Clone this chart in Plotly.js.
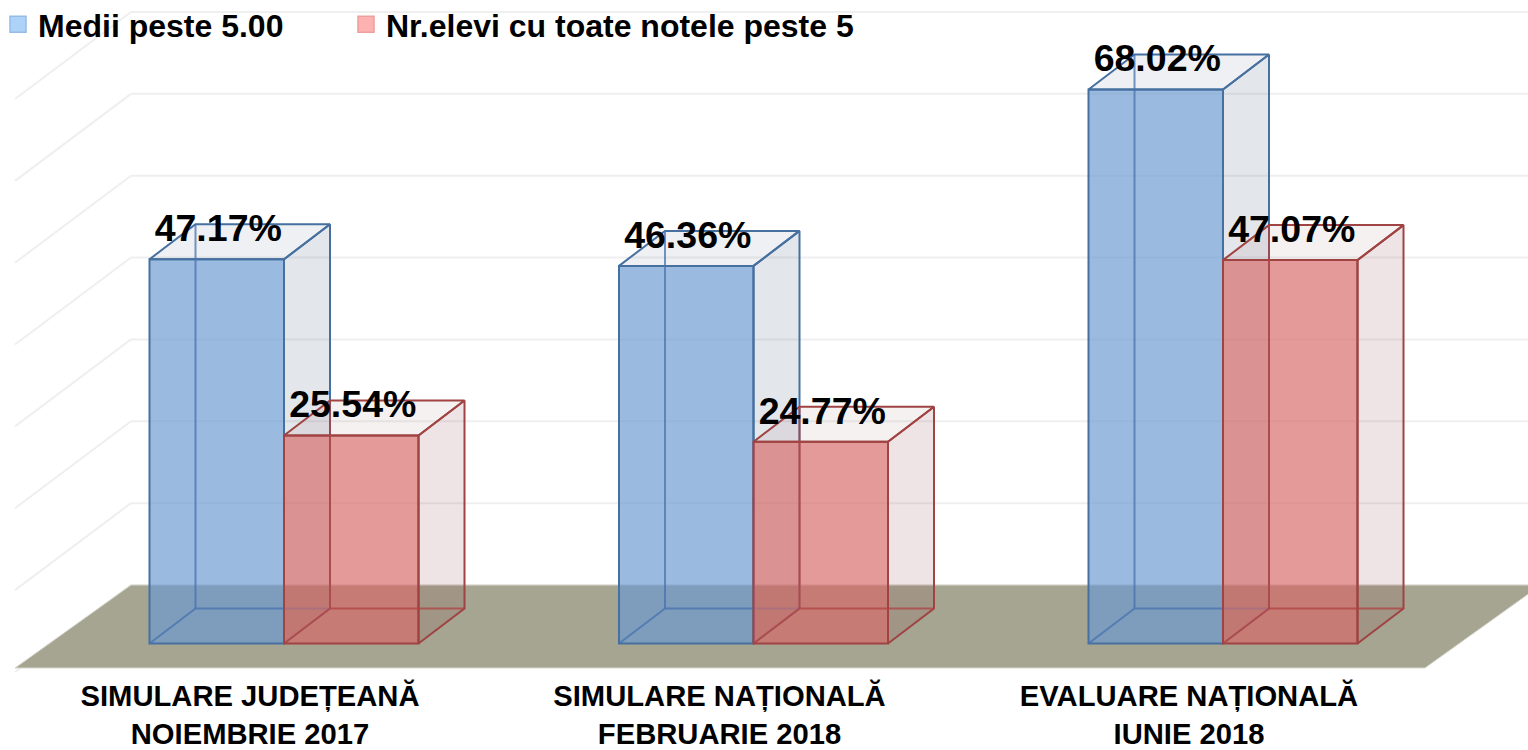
<!DOCTYPE html>
<html><head><meta charset="utf-8">
<script src="https://cdn.plot.ly/plotly-3.0.1.min.js"></script>
<style>html,body{margin:0;padding:0;background:#fff;overflow:hidden}#c{width:1528px;height:750px}</style>
</head><body><div id="c"></div>
<script>
const categories = ["SIMULARE JUDEȚEANĂ<br>NOIEMBRIE 2017","SIMULARE NAȚIONALĂ<br>FEBRUARIE 2018","EVALUARE NAȚIONALĂ<br>IUNIE 2018"];
const mediiPeste5 = [47.17,46.36,68.02];
const toateNotele = [25.54,24.77,47.07];
const gridValues = [10,20,30,40,50,60,70];
const seriesNames = ["Medii peste 5.00","Nr.elevi cu toate notele peste 5"];

// scales: pixels per unit of each axis
const W=1528,H=750,B=74;
const PX=469.5, PY=8.145, X0=284, Y0=643.5;
const xr=[-X0/PX,(W-X0)/PX], yr=[-(H-B-Y0)/PY,Y0/PY];
const barW=134.5/PX;
// oblique projection of depth
const dx=46/PX, dy=35/PY;
const wallDx=116/PX, wallDy=87/PY, floorDy=83/PY;
const backZero=58.5/PY, gridScale=81.86/(10*PY), floorFront=-24.5/PY, floorLeft=(15-X0)/PX;
const labelRise=27.5/PY, labelShift=1.5/PX, tickShift=-34/PX;
const font="'Liberation Sans',Arial,sans-serif";

const idx=categories.map((_,i)=>i);
const shapes=[];
gridValues.concat([0]).forEach(g=>{
  const y=backZero+g*gridScale, xb=floorLeft+wallDx;
  shapes.push({type:'line',layer:'below',xref:'x',yref:'y',x0:xb,x1:xr[1],y0:y,y1:y,line:{color:'#efefef',width:2}});
  shapes.push({type:'line',layer:'below',xref:'x',yref:'y',x0:xb,x1:floorLeft,y0:y,y1:y-wallDy,line:{color:'#efefef',width:2}});
});
const fl=floorLeft, fr=(1425-X0)/PX;
shapes.push({type:'path',layer:'below',xref:'x',yref:'y',
  path:`M${fl},${floorFront} L${fr},${floorFront} L${fr+wallDx},${floorFront+floorDy} L${fl+wallDx},${floorFront+floorDy} Z`,
  fillcolor:'#a6a591',line:{color:'#d9d9d0',width:1}});

function boxTraces(vals,off,name,ax,c){
  const xa=ax?'x2':'x', ya=ax?'y2':'y';
  const side={x:[],y:[]},top={x:[],y:[]},back={x:[],y:[]};
  vals.forEach((v,i)=>{
    const a=i+off, b=a+barW;
    side.x.push(b,b+dx,b+dx,b,b,null); side.y.push(v,v+dy,dy,0,v,null);
    top.x.push(a,a+dx,b+dx,b,a,null); top.y.push(v,v+dy,v+dy,v,v,null);
    back.x.push(a+dx,a+dx,null,a+dx,b+dx,null,a,a+dx,null); back.y.push(v+dy,dy,null,dy,dy,null,0,dy,null);
  });
  const s={showlegend:false,hoverinfo:'skip',xaxis:xa,yaxis:ya,type:'scatter',mode:'lines'};
  return [
    {...s,x:side.x,y:side.y,fill:'toself',fillcolor:c.side,line:{color:c.edge,width:2}},
    {...s,x:top.x,y:top.y,fill:'toself',fillcolor:c.top,line:{color:c.edge,width:2}},
    {type:'bar',x:idx,y:vals,width:barW,offset:off,name:name,showlegend:false,hoverinfo:'skip',xaxis:xa,yaxis:ya,
      marker:{color:c.front,line:{color:c.edge,width:2}}},
    {...s,x:back.x,y:back.y,line:{color:c.back,width:2}},
    {type:'scatter',mode:'text',x:idx.map(i=>i+off+barW/2+labelShift),y:vals.map(v=>v+labelRise),text:vals.map(v=>v.toFixed(2)+'%'),
      textposition:'middle center',textfont:{family:font,size:37.5,color:'#000',weight:700},showlegend:false,hoverinfo:'skip',xaxis:xa,yaxis:ya}
  ];
}
const blue={front:'rgba(106,152,209,0.67)',side:'rgba(70,90,120,0.15)',top:'rgba(70,90,120,0.09)',edge:'#46709f',back:'rgba(70,115,175,0.75)'};
const red={front:'rgba(213,104,103,0.67)',side:'rgba(130,50,55,0.13)',top:'rgba(130,50,55,0.07)',edge:'#a04343',back:'rgba(175,65,65,0.75)'};
function legendTrace(name,fill,edge,leg){
  return {type:'scatter',mode:'markers',x:[null],y:[null],name:name,hoverinfo:'skip',legend:leg,
    marker:{symbol:'square',size:16,color:fill,line:{color:edge,width:1.5}}};
}
const data=[
  legendTrace(seriesNames[0],'#aed3f9','#95bbe6','legend'),
  legendTrace(seriesNames[1],'#fbb2b0','#ed9f9d','legend2'),
  ...boxTraces(mediiPeste5,-barW,seriesNames[0],false,blue),
  ...boxTraces(toateNotele,0,seriesNames[1],true,red)
];
const legFont={family:font,size:32,color:'#000',weight:700};
const legY=1+3/(H-B);
const layout={
  width:W,height:H,margin:{l:0,r:0,t:0,b:B,autoexpand:false},paper_bgcolor:'#fff',plot_bgcolor:'#fff',
  showlegend:true,barmode:'overlay',
  legend:{orientation:'h',x:-2/W,xanchor:'left',y:legY,yanchor:'top',itemsizing:'trace',font:legFont,bgcolor:'rgba(0,0,0,0)'},
  legend2:{orientation:'h',x:346/W,xanchor:'left',y:legY,yanchor:'top',itemsizing:'trace',font:legFont,bgcolor:'rgba(0,0,0,0)'},
  xaxis:{range:xr,tickmode:'array',tickvals:idx.map(i=>i+tickShift),ticktext:categories,showgrid:false,zeroline:false,showline:false,
    ticks:'',tickfont:{family:font,size:29.2,color:'#000',weight:700},automargin:false,fixedrange:true,tickangle:0},
  yaxis:{range:yr,showgrid:false,zeroline:false,showticklabels:false,ticks:'',fixedrange:true,automargin:false},
  xaxis2:{overlaying:'x',range:xr,visible:false,fixedrange:true},
  yaxis2:{overlaying:'y',range:yr,visible:false,fixedrange:true},
  shapes:shapes
};
Plotly.newPlot('c',data,layout,{displayModeBar:false,staticPlot:true});
</script></body></html>
